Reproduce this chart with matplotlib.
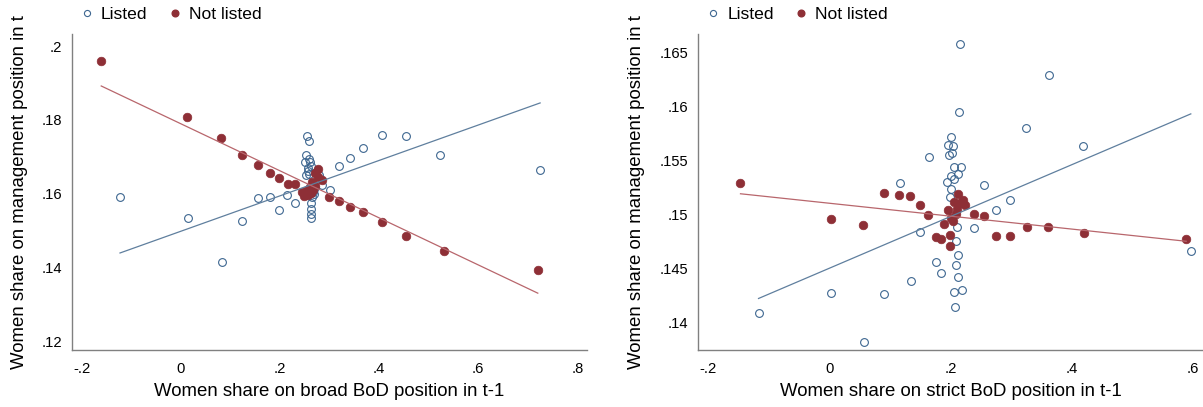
import matplotlib
matplotlib.use("Agg")
import matplotlib.pyplot as plt
from matplotlib.lines import Line2D

plt.rcParams['font.family'] = ['Liberation Sans', 'DejaVu Sans']

# ---------------- data: left panel (broad BoD) ----------------
broad_listed_x = [-0.123, 0.0135, 0.083, 0.1235, 0.1564, 0.1793, 0.1988, 0.2149, 0.2298,
                  0.2553, 0.258, 0.252, 0.2593, 0.25, 0.2613, 0.2567, 0.2533, 0.2587, 0.2789,
                  0.2654, 0.2694, 0.2647, 0.2634, 0.2634, 0.2627, 0.2627, 0.2857, 0.3004,
                  0.3198, 0.3414, 0.3683, 0.4063, 0.4543, 0.5239, 0.725,
                  0.262, 0.2565, 0.268, 0.2665]
broad_listed_y = [0.1591, 0.1535, 0.1415, 0.1525, 0.1589, 0.159, 0.1556, 0.1597, 0.1574,
                  0.1757, 0.1742, 0.1704, 0.1693, 0.1685, 0.1686, 0.167, 0.165, 0.1653, 0.165,
                  0.1621, 0.1612, 0.159, 0.1575, 0.1559, 0.1546, 0.1535, 0.1623, 0.1611,
                  0.1675, 0.1697, 0.1724, 0.176, 0.1756, 0.1704, 0.1665,
                  0.1675, 0.1662, 0.1598, 0.1604]
broad_notlisted_x = [-0.1606, 0.0127, 0.0805, 0.1235, 0.155, 0.1793, 0.1981, 0.2157, 0.2298,
                     0.2775, 0.2708, 0.2843, 0.2641, 0.2607, 0.254, 0.244, 0.2486, 0.2573,
                     0.2674, 0.2997, 0.3198, 0.342, 0.3683, 0.4063, 0.4543, 0.5309, 0.7203,
                     0.252, 0.262, 0.27, 0.276]
broad_notlisted_y = [0.1961, 0.1808, 0.1751, 0.1705, 0.1677, 0.1656, 0.1642, 0.1627, 0.1627,
                     0.1668, 0.1655, 0.1636, 0.1632, 0.1618, 0.1609, 0.1605, 0.1593, 0.1596,
                     0.1609, 0.1592, 0.158, 0.1563, 0.155, 0.1524, 0.1484, 0.1445, 0.1393,
                     0.1598, 0.1602, 0.1622, 0.1645]
broad_fit_listed_x = [-0.1227, 0.725]
broad_fit_listed_y = [0.1439, 0.1846]
broad_fit_notlisted_x = [-0.1606, 0.7203]
broad_fit_notlisted_y = [0.1892, 0.1330]

# ---------------- data: right panel (strict BoD) ----------------
strict_listed_x = [0.2149, 0.3615, 0.2136, 0.3242, 0.4177, 0.2016, 0.1959, 0.2047, 0.1978,
                   0.2022, 0.1643, 0.2054, 0.2167, 0.2117, 0.2003, 0.2054, 0.1946, 0.1163,
                   0.2559, 0.2003, 0.1991, 0.2976, 0.2755, 0.2382, 0.1504, 0.2104, 0.2092,
                   0.2117, 0.1757, 0.2092, 0.1839, 0.213, 0.1346, 0.0038, 0.091, 0.206,
                   0.2193, 0.2066, -0.1163, 0.0575, 0.5965]
strict_listed_y = [0.1658, 0.1629, 0.1595, 0.158, 0.1563, 0.1572, 0.1564, 0.1563, 0.1555,
                   0.1557, 0.1553, 0.1544, 0.1544, 0.1537, 0.1535, 0.1533, 0.153, 0.1529,
                   0.1527, 0.1523, 0.1516, 0.1513, 0.1504, 0.1487, 0.1484, 0.1488, 0.1475,
                   0.1462, 0.1456, 0.1453, 0.1446, 0.1442, 0.1438, 0.1427, 0.1426, 0.1428,
                   0.143, 0.1414, 0.1409, 0.1382, 0.1466]
strict_notlisted_x = [-0.146, 0.0032, 0.0555, 0.0906, 0.1159, 0.134, 0.1499, 0.1636, 0.1763,
                      0.1845, 0.1993, 0.1999, 0.19, 0.1966, 0.2131, 0.2054, 0.2149, 0.2212,
                      0.2243, 0.2085, 0.2041, 0.2104, 0.2003, 0.2383, 0.2559, 0.2751, 0.2987,
                      0.3257, 0.3608, 0.4202, 0.5883]
strict_notlisted_y = [0.1529, 0.1496, 0.149, 0.152, 0.1518, 0.1517, 0.1509, 0.1499, 0.1479,
                      0.1477, 0.1481, 0.1471, 0.1491, 0.1504, 0.1519, 0.1511, 0.151, 0.1513,
                      0.1509, 0.15, 0.1494, 0.1505, 0.1497, 0.15, 0.1498, 0.148, 0.148,
                      0.1488, 0.1488, 0.1483, 0.1477]
strict_fit_listed_x = [-0.1163, 0.5959]
strict_fit_listed_y = [0.1422, 0.1593]
strict_fit_notlisted_x = [-0.146, 0.5883]
strict_fit_notlisted_y = [0.1519, 0.1475]

# ---------------- tick labels ----------------
broad_xticks = [-0.2, 0, 0.2, 0.4, 0.6, 0.8]
broad_xticklabels = ['-.2', '0', '.2', '.4', '.6', '.8']
broad_yticks = [0.12, 0.14, 0.16, 0.18, 0.2]
broad_yticklabels = ['.12', '.14', '.16', '.18', '.2']
strict_xticks = [-0.2, 0, 0.2, 0.4, 0.6]
strict_xticklabels = ['-.2', '0', '.2', '.4', '.6']
strict_yticks = [0.14, 0.145, 0.15, 0.155, 0.16, 0.165]
strict_yticklabels = ['.14', '.145', '.15', '.155', '.16', '.165']

series_labels = ['Listed', 'Not listed']
xlabels = ['Women share on broad BoD position in t-1', 'Women share on strict BoD position in t-1']
ylabel = 'Women share on management position in t'

BLUE = '#3d6690'
RED = '#8e2f36'
BLUE_LINE = '#5f7f9e'
RED_LINE = '#b8666c'
GRAY = '#808080'

W, H = 1203, 407
fig = plt.figure(figsize=(W / 100, H / 100), dpi=100)


def px_axes(x0, x1, ytop, ybot):
    return fig.add_axes([x0 / W, 1 - ybot / H, (x1 - x0) / W, (ybot - ytop) / H])


ax1 = px_axes(71.7, 586.7, 34, 350.3)
ax2 = px_axes(697.7, 1203, 34, 350.3)

panels = [
    (ax1, broad_listed_x, broad_listed_y, broad_notlisted_x, broad_notlisted_y,
     broad_fit_listed_x, broad_fit_listed_y, broad_fit_notlisted_x, broad_fit_notlisted_y,
     (-0.2202, 0.819), (0.1175, 0.2033), broad_xticks, broad_xticklabels,
     broad_yticks, broad_yticklabels),
    (ax2, strict_listed_x, strict_listed_y, strict_notlisted_x, strict_notlisted_y,
     strict_fit_listed_x, strict_fit_listed_y, strict_fit_notlisted_x, strict_fit_notlisted_y,
     (-0.2165, 0.616), (0.1374, 0.1667), strict_xticks, strict_xticklabels,
     strict_yticks, strict_yticklabels),
]

for (ax, lx, ly, nx, ny, flx, fly, fnx, fny, xlim, ylim, xt, xtl, yt, ytl) in panels:
    ax.plot(lx, ly, ls='none', marker='o', ms=5.6, mfc='none', mec=BLUE, mew=0.8, zorder=3)
    ax.plot(nx, ny, ls='none', marker='o', ms=6.2, mfc=RED, mec=RED, mew=0.5, zorder=4)
    ax.plot(flx, fly, color=BLUE_LINE, lw=0.9, zorder=5)
    ax.plot(fnx, fny, color=RED_LINE, lw=0.9, zorder=5)
    ax.set_xlim(*xlim)
    ax.set_ylim(*ylim)
    ax.set_xticks(xt, xtl)
    ax.set_yticks(yt, ytl)
    ax.tick_params(axis='both', length=0, labelsize=10.6, colors='black')
    ax.tick_params(axis='x', pad=8.5)
    ax.tick_params(axis='y', pad=7)
    for s in ['top', 'right']:
        ax.spines[s].set_visible(False)
    for s in ['left', 'bottom']:
        ax.spines[s].set_color(GRAY)
        ax.spines[s].set_linewidth(1.0)
    ax.patch.set_visible(False)

# axis titles
fig.text(329.2 / W, 1 - 392 / H, xlabels[0], ha='center', va='center', fontsize=13.4)
fig.text(950.4 / W, 1 - 392 / H, xlabels[1], ha='center', va='center', fontsize=13.4)
fig.text(19.5 / W, 1 - 192 / H, ylabel, ha='center', va='center', rotation=90, fontsize=13.4)
fig.text(636.5 / W, 1 - 192 / H, ylabel, ha='center', va='center', rotation=90, fontsize=13.4)

# legends
for left_px in (81.5, 708.0):
    handles = [
        Line2D([], [], ls='none', marker='o', ms=4.4, mfc='none', mec=BLUE, mew=0.8),
        Line2D([], [], ls='none', marker='o', ms=4.8, mfc=RED, mec=RED),
    ]
    fig.legend(handles, series_labels, loc='center left',
               bbox_to_anchor=(left_px / W, 1 - 14 / H), ncol=2, frameon=False,
               fontsize=12.6, borderpad=0, borderaxespad=0, handlelength=0.6,
               handletextpad=0.5, columnspacing=1.27)

fig.savefig('out.png', dpi=100)
